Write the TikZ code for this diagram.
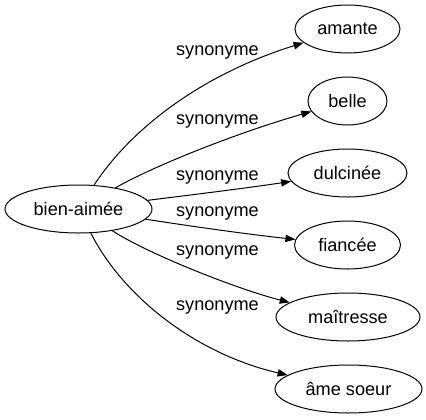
\documentclass[tikz,border=0pt]{standalone}
\usepackage{fontspec}
\setmainfont{Liberation Sans}
\usetikzlibrary{shapes.geometric,arrows.meta}
\begin{document}
\begin{tikzpicture}[x=0.75pt,y=-0.75pt,
  word/.style={draw,ellipse,inner sep=0pt,minimum height=36pt,line width=0.75pt,font=\fontsize{13.6pt}{16pt}\selectfont},
  rel/.style={font=\fontsize{13.6pt}{16pt}\selectfont,inner sep=0pt},
  edge/.style={line width=0.75pt,-{Triangle[length=7.5pt,width=5.5pt]}}]
\useasboundingbox (0,0) rectangle (426,419);
\node[word,minimum width=110.25pt] (src) at (78.5,209) {bien-aimée};
\node[word,minimum width=78.75pt] (n1) at (347.5,29) {amante};
\node[word,minimum width=59.25pt] (n2) at (347.5,101) {belle};
\node[word,minimum width=89.25pt] (n3) at (347.5,173) {dulcinée};
\node[word,minimum width=79.5pt] (n4) at (347.5,245) {fiancée};
\node[word,minimum width=108pt] (n5) at (348,317) {maîtresse};
\node[word,minimum width=110.25pt] (n6) at (348.5,389) {âme soeur};
\node[rel] (l1) at (217.5,52) {synonyme};
\node[rel] (l2) at (217.5,121) {synonyme};
\node[rel] (l3) at (217.5,177) {synonyme};
\node[rel] (l4) at (217.5,213) {synonyme};
\node[rel] (l5) at (217.5,252) {synonyme};
\node[rel] (l6) at (217.5,307) {synonyme};
\draw[edge] (src) .. controls (130,130) and (200,75) .. (n1);
\draw[edge] (src) .. controls (150,168) and (230,135) .. (n2);
\draw[edge] (src) .. controls (190,195) and (240,189) .. (n3);
\draw[edge] (src) .. controls (190,226) and (245,234) .. (n4);
\draw[edge] (src) .. controls (150,255) and (240,290) .. (n5);
\draw[edge] (src) .. controls (125,300) and (200,355) .. (n6);
\end{tikzpicture}
\end{document}
